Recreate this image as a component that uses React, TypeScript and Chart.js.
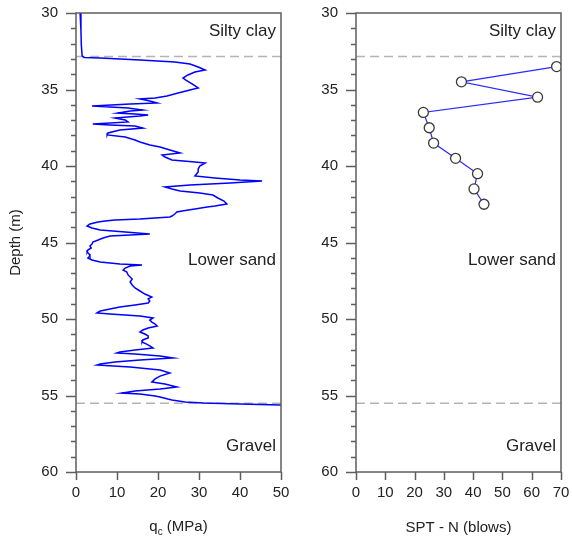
import React, { useEffect, useRef } from "react";
import { Chart, registerables } from "chart.js";

Chart.register(...registerables);

// ---- Data ----
const qcDepth = [
  30.0, 31.11, 32.09, 32.81, 32.91, 32.94, 33.07, 33.2, 33.33, 33.53, 33.73, 33.86, 34.05, 34.25, 34.38, 34.64,
  34.9, 35.03, 35.23, 35.42, 35.56, 35.62, 35.75, 35.88, 35.95, 36.08, 36.14, 36.21, 36.27, 36.34, 36.41, 36.54,
  36.6, 36.67, 36.73, 36.86, 36.99, 37.12, 37.25, 37.32, 37.39, 37.52, 37.65, 37.84, 37.97, 38.1, 38.3, 38.43,
  38.63, 38.76, 38.95, 39.15, 39.28, 39.41, 39.61, 39.74, 39.8, 40.0, 40.2, 40.39, 40.65, 40.78, 40.92, 40.98,
  41.11, 41.24, 41.37, 41.5, 41.63, 41.76, 41.9, 42.09, 42.29, 42.48, 42.61, 42.68, 42.81, 42.94, 43.01, 43.14,
  43.27, 43.33, 43.46, 43.53, 43.59, 43.66, 43.79, 43.92, 44.05, 44.18, 44.31, 44.44, 44.51, 44.58, 44.71, 44.84,
  44.97, 45.1, 45.23, 45.36, 45.49, 45.62, 45.75, 45.88, 46.01, 46.14, 46.27, 46.41, 46.47, 46.54, 46.67, 46.8,
  46.93, 47.12, 47.25, 47.39, 47.58, 47.78, 47.97, 48.17, 48.37, 48.56, 48.69, 48.82, 48.95, 49.08, 49.22, 49.35,
  49.48, 49.61, 49.67, 49.8, 49.93, 50.07, 50.2, 50.33, 50.46, 50.59, 50.72, 50.85, 50.98, 51.11, 51.24, 51.37,
  51.5, 51.63, 51.76, 51.9, 52.03, 52.16, 52.22, 52.29, 52.42, 52.55, 52.68, 52.81, 52.94, 53.01, 53.14, 53.33,
  53.53, 53.73, 53.92, 54.12, 54.25, 54.44, 54.58, 54.71, 54.84, 54.9, 55.03, 55.1, 55.23, 55.29, 55.42, 55.49,
  55.56, 55.62, 55.65,
];
const qcValues = [
  1.0, 1.2, 1.3, 1.5, 2.0, 5.9, 15.6, 24.1, 27.8, 29.8, 31.5, 29.0, 27.3, 26.1, 26.8, 28.3,
  29.8, 27.8, 24.9, 22.2, 19.3, 15.6, 18.0, 19.8, 13.2, 3.9, 8.3, 12.7, 14.4, 16.3, 13.2, 10.2,
  14.4, 17.6, 15.6, 9.5, 12.0, 12.7, 4.1, 8.3, 14.4, 16.3, 10.7, 7.8, 7.6, 12.0, 14.4, 15.6,
  18.0, 20.5, 22.9, 25.4, 21.0, 21.7, 23.4, 29.0, 31.5, 30.2, 29.8, 29.8, 29.0, 33.9, 40.0, 45.4,
  37.6, 27.8, 21.7, 23.4, 25.4, 30.2, 33.4, 34.6, 36.1, 36.8, 33.9, 32.0, 29.0, 25.9, 24.6, 24.1,
  23.4, 22.9, 15.6, 9.5, 7.1, 5.4, 3.4, 2.7, 3.9, 5.9, 12.0, 18.0, 13.2, 8.3, 6.6, 5.4,
  4.1, 3.9, 3.4, 3.7, 2.9, 2.7, 3.2, 3.4, 2.9, 3.9, 5.9, 10.7, 16.1, 13.2, 12.0, 11.5,
  12.4, 12.7, 13.2, 13.7, 13.2, 13.7, 14.4, 15.6, 16.8, 18.5, 17.6, 18.0, 17.6, 14.4, 10.7, 8.3,
  5.9, 5.1, 8.3, 15.6, 18.8, 18.0, 18.5, 19.3, 19.8, 17.6, 16.3, 15.6, 16.8, 17.6, 17.6, 16.3,
  16.1, 17.1, 18.0, 18.8, 14.4, 10.7, 10.0, 14.4, 20.5, 23.7, 15.6, 9.5, 5.9, 5.1, 13.2, 20.5,
  22.9, 20.5, 19.3, 18.5, 21.7, 24.6, 20.5, 14.4, 11.2, 15.6, 19.3, 20.5, 22.4, 23.4, 26.6, 31.0,
  40.0, 49.8, 50.0,
];

const sptDepth = [33.5, 34.5, 35.5, 36.5, 37.5, 38.5, 39.5, 40.5, 41.5, 42.5];
const sptN = [68.5, 36, 62, 23, 25, 26.5, 34, 41.5, 40.3, 43.7];

const layerBoundaries = [32.85, 55.5];
const layerNames = ["Silty clay", "Lower sand", "Gravel"];
const layerLabelDepths = [31.2, 46.15, 58.3];

const depthMin = 30;
const depthMax = 60;
const qcTicks = [0, 10, 20, 30, 40, 50];
const sptTicks = [0, 10, 20, 30, 40, 50, 60, 70];

const FONT = "'Liberation Sans', Arial, sans-serif";
const TEXT = "#222222";
const AXIS = "#5e5e5e";

function makeFramePlugin(xTicks: number[], customTitle: boolean) {
  return {
    id: "frame",
    afterDraw(chart: any) {
      const { ctx, chartArea: a, scales } = chart;
      const xs = scales.x;
      const ys = scales.y;
      ctx.save();
      ctx.strokeStyle = AXIS;
      ctx.lineWidth = 1.5;
      ctx.strokeRect(a.left, a.top, a.right - a.left, a.bottom - a.top);
      ctx.beginPath();
      for (let d = depthMin; d <= depthMax; d++) {
        const py = Math.round(ys.getPixelForValue(d)) + 0.5;
        const len = d % 5 === 0 ? 10 : 5;
        ctx.moveTo(a.left - len, py);
        ctx.lineTo(a.left, py);
      }
      for (const v of xTicks) {
        const px = Math.round(xs.getPixelForValue(v)) + 0.5;
        ctx.moveTo(px, a.bottom);
        ctx.lineTo(px, a.bottom + 8);
      }
      ctx.stroke();

      // layer labels
      ctx.fillStyle = TEXT;
      ctx.font = `17px ${FONT}`;
      ctx.textAlign = "right";
      ctx.textBaseline = "middle";
      layerNames.forEach((name, i) => {
        ctx.fillText(name, a.right - 5, ys.getPixelForValue(layerLabelDepths[i]));
      });

      if (customTitle) {
        const cx = (a.left + a.right) / 2;
        const cy = 527;
        ctx.font = `15px ${FONT}`;
        const w1 = ctx.measureText("q").width;
        const w3 = ctx.measureText(" (MPa)").width;
        ctx.font = `10px ${FONT}`;
        const w2 = ctx.measureText("c").width;
        const total = w1 + w2 + w3;
        const x0 = cx - total / 2;
        ctx.textAlign = "left";
        ctx.textBaseline = "middle";
        ctx.font = `15px ${FONT}`;
        ctx.fillText("q", x0, cy);
        ctx.font = `10px ${FONT}`;
        ctx.fillText("c", x0 + w1, cy + 5);
        ctx.font = `15px ${FONT}`;
        ctx.fillText(" (MPa)", x0 + w1 + w2, cy);
      }
      ctx.restore();
    },
  };
}

function boundaryDatasets(xmax: number) {
  return layerBoundaries.map((d) => ({
    type: "line" as const,
    data: [
      { x: 0, y: d },
      { x: xmax, y: d },
    ],
    borderColor: "#b4b4b4",
    borderWidth: 1.5,
    borderDash: [9, 5],
    pointRadius: 0,
    fill: false,
  }));
}

function yScale(width: number, showTitle: boolean) {
  return {
    type: "linear" as const,
    reverse: true,
    min: depthMin,
    max: depthMax,
    afterFit: (s: any) => {
      s.width = width;
      s.paddingTop = 0;
      s.paddingBottom = 0;
    },
    grid: { display: false, drawTicks: false },
    border: { display: false },
    ticks: {
      stepSize: 5,
      padding: 18,
      color: TEXT,
      font: { family: FONT, size: 15 },
    },
    title: {
      display: showTitle,
      text: "Depth (m)",
      color: TEXT,
      font: { family: FONT, size: 15 },
      padding: { top: 7, bottom: 0 },
    },
  };
}

function xScale(max: number, step: number, title: string | null) {
  return {
    type: "linear" as const,
    min: 0,
    max,
    afterFit: (s: any) => {
      s.height = 77;
      s.paddingLeft = 0;
      s.paddingRight = 0;
    },
    grid: { display: false, drawTicks: false },
    border: { display: false },
    ticks: {
      stepSize: step,
      padding: 12,
      color: TEXT,
      font: { family: FONT, size: 15 },
    },
    title: {
      display: !!title,
      text: title || "",
      color: TEXT,
      font: { family: FONT, size: 15 },
      padding: { top: 0, bottom: 12 },
    },
  };
}

export default function App() {
  const leftRef = useRef<HTMLCanvasElement>(null);
  const rightRef = useRef<HTMLCanvasElement>(null);

  useEffect(() => {
    const qcPoints = qcDepth.map((d, i) => ({ x: qcValues[i], y: d }));
    const sptPoints = sptDepth.map((d, i) => ({ x: sptN[i], y: d }));

    const left = new Chart(leftRef.current as HTMLCanvasElement, {
      type: "line",
      data: {
        datasets: [
          {
            data: qcPoints,
            borderColor: "#0000ff",
            borderWidth: 1.5,
            pointRadius: 0,
            fill: false,
            tension: 0,
          },
          ...boundaryDatasets(50),
        ] as any,
      },
      options: {
        responsive: false,
        animation: false,
        events: [],
        layout: { padding: { left: 0, top: 13, right: 9, bottom: 0 } },
        plugins: { legend: { display: false }, tooltip: { enabled: false } },
        scales: {
          x: xScale(50, 10, null),
          y: yScale(76, true),
        } as any,
      },
      plugins: [makeFramePlugin(qcTicks, true)],
    });

    const right = new Chart(rightRef.current as HTMLCanvasElement, {
      type: "line",
      data: {
        datasets: [
          {
            data: sptPoints,
            borderColor: "#2a2aff",
            borderWidth: 1.2,
            pointRadius: 5,
            pointBorderWidth: 1.3,
            pointBorderColor: "#3a3a3a",
            pointBackgroundColor: "#ffffff",
            fill: false,
            tension: 0,
          },
          ...boundaryDatasets(70),
        ] as any,
      },
      options: {
        responsive: false,
        animation: false,
        events: [],
        layout: { padding: { left: 0, top: 13, right: 11, bottom: 0 } },
        plugins: { legend: { display: false }, tooltip: { enabled: false } },
        scales: {
          x: xScale(70, 10, "SPT - N (blows)"),
          y: yScale(66, false),
        } as any,
      },
      plugins: [makeFramePlugin(sptTicks, false)],
    });

    return () => {
      left.destroy();
      right.destroy();
    };
  }, []);

  return (
    <div
      style={{
        position: "absolute",
        left: 0,
        top: 0,
        width: 572,
        height: 549,
        background: "#ffffff",
        overflow: "hidden",
      }}
    >
      <canvas
        ref={leftRef}
        width={290}
        height={549}
        style={{ position: "absolute", left: 0, top: 0, width: 290, height: 549 }}
      />
      <canvas
        ref={rightRef}
        width={282}
        height={549}
        style={{ position: "absolute", left: 290, top: 0, width: 282, height: 549 }}
      />
    </div>
  );
}
